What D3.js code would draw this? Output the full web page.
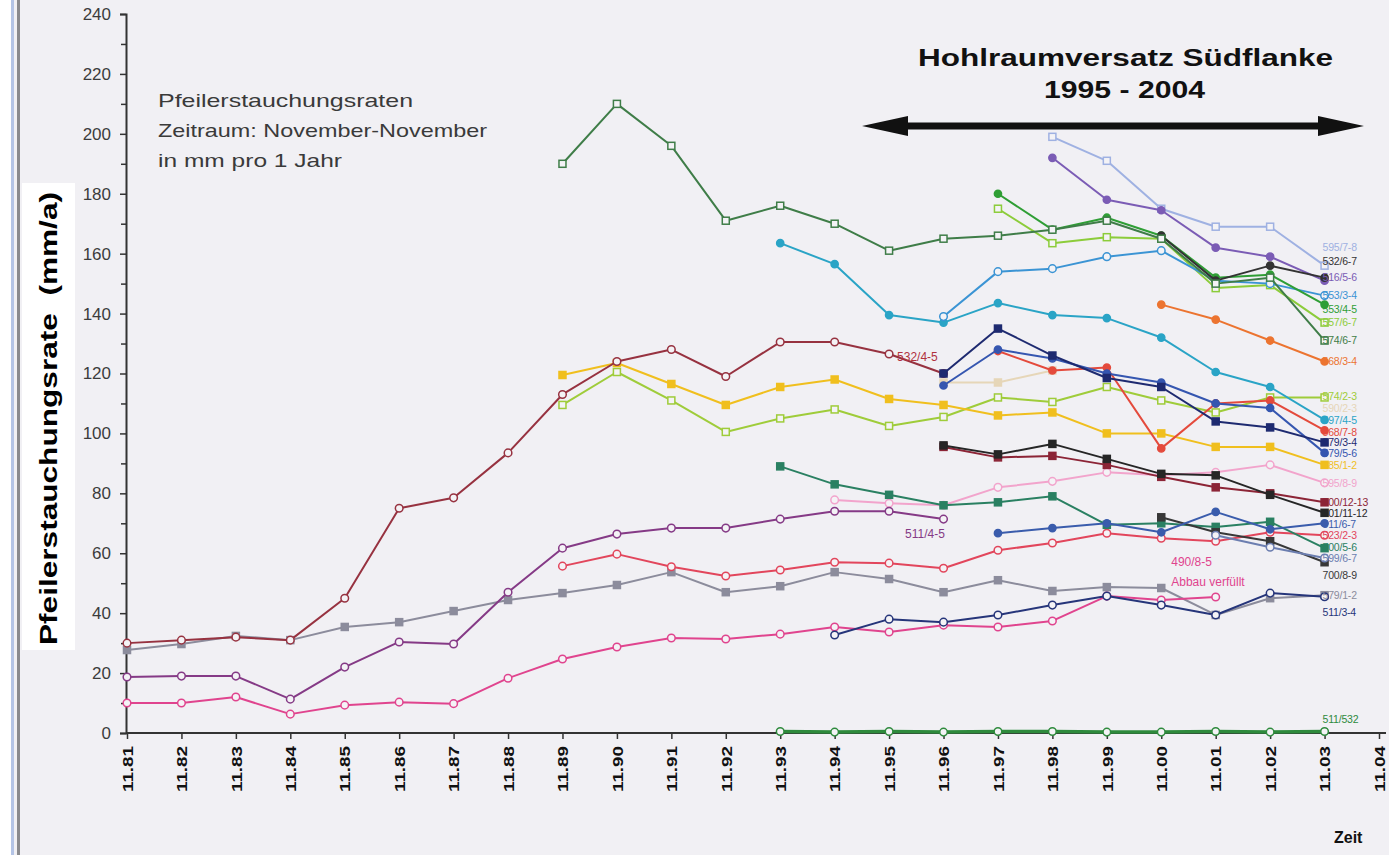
<!DOCTYPE html>
<html>
<head>
<meta charset="utf-8">
<script src="https://cdn.jsdelivr.net/npm/d3@7"></script>
<style>
    body { margin: 0; background: #f1f0f4; }
    svg { display: block; font-family: Arial, "Liberation Sans", sans-serif; }
</style>
</head>
<body>
<svg id="chart" width="1389" height="855"></svg>
<script>
// x categories (November of each year)
const xLabels = ["11.81","11.82","11.83","11.84","11.85","11.86","11.87","11.88","11.89","11.90","11.91","11.92",
                 "11.93","11.94","11.95","11.96","11.97","11.98","11.99","11.00","11.01","11.02","11.03","11.04"];
const yTicks = [0,20,40,60,80,100,120,140,160,180,200,220,240];

// values, mm per year, each array starts at its first year
const p574_6_7 = [190,210,196,171,176,170,161,165,166,168,171,165,150,152,131];
const p553_4_5 = [180,168,172,166,152,153,143];
const p557_6_7 = [175,163.5,165.5,165,148.5,149.5,137];
const p553_3_4 = [139,154,155,159,161,151,150,146];
const p597_4_5 = [163.5,156.5,139.5,137,143.5,139.5,138.5,132,120.5,115.5,104.5];
const p595_7_8 = [199,191,175,169,169,156];
const p516_5_6 = [192,178,174.5,162,159,151];
const p532_6_7 = [166,151,156,152];
const p568_3_4 = [143,138,131,124];
const p574_2_3 = [109.5,120.5,111,100.5,105,108,102.5,105.5,112,110.5,115.5,111,107,112,112];
const p585_1_2 = [119.5,123.5,116.5,109.5,115.5,118,111.5,109.5,106,107,100,100,95.5,95.5,89.5];
const p532_4_5 = [30,31,32,31,45,75,78.5,93.5,113,124,128,119,130.5,130.5,126.5,120];
const p579_3_4 = [120,135,126,118.5,115.5,104,102,97];
const p579_5_6 = [116,128,125,120,117,110,108.5,93.5];
const p568_7_8 = [127.5,121,122,95,110,111,101];
const p590_2_3 = [117,117,121];
const p500_12_13 = [95.5,92,92.5,89.5,85.5,82,80,77];
const p501_11_12 = [96,93,96.5,91.5,86.5,86,79.5,73.5];
const p595_8_9 = [77.8,76.7,76,82,84,87,86,87,89.5,83.5];
const p700_5_6 = [89,83,79.5,76,77,79,69.5,70,68.8,70.5,61.7];
const p700_8_9 = [72,67,64,57];
const p511_4_5 = [18.7,19,19,11.3,22,30.4,29.7,47,61.7,66.4,68.4,68.4,71.4,74,74,71.4];
const p523_2_3 = [55.7,59.7,55.5,52.4,54.4,57,56.7,55,61,63.4,66.7,65,64,67,66];
const p511_6_7 = [66.7,68.4,70,67,73.8,68,70];
const p599_6_7 = [66,62,58.4];
const p579_1_2 = [27.7,29.7,32.4,31,35.4,37,40.7,44.4,46.7,49.4,53.7,47,49,53.7,51.4,47,51,47.4,48.7,48.4,39.4,45,46];
const p490_8_5 = [10,10,12,6.3,9.3,10.3,9.8,18.3,24.7,28.7,31.7,31.4,33,35.4,33.7,36,35.4,37.4,45.7,44.4,45.4];
const p511_3_4 = [32.7,38,37,39.4,42.7,45.7,42.7,39.4,46.7,45.5];
const p511_532 = [0.5,0.3,0.5,0.3,0.5,0.5,0.3,0.3,0.5,0.3,0.5];

// label names at the right edge and the value where each sits
const rightNames  = ["595/7-8","532/6-7","516/5-6","553/3-4","553/4-5","557/6-7","574/6-7","568/3-4","574/2-3","590/2-3",
                     "597/4-5","568/7-8","579/3-4","579/5-6","585/1-2","595/8-9","500/12-13","501/11-12","511/6-7","523/2-3",
                     "700/5-6","599/6-7","700/8-9","579/1-2","511/3-4","511/532"];
const rightValues = [162,157.5,152,146,141.5,137,131,124,112.5,108.5,
                     104.5,100.5,97,93.3,89.5,83.5,77,73.3,69.7,66,
                     61.9,58.2,52.7,46,40.4,4.7];

// series table: data + look
const series = [
    {name:"590/2-3",  start:"11.96", vals:p590_2_3,  color:"#e6d6b8", mark:"fsq"},
    {name:"595/8-9",  start:"11.94", vals:p595_8_9,  color:"#f2a4cc", mark:"c"},
    {name:"595/7-8",  start:"11.98", vals:p595_7_8,  color:"#9fb1e2", mark:"sq"},
    {name:"557/6-7",  start:"11.97", vals:p557_6_7,  color:"#8ccc3a", mark:"sq"},
    {name:"574/2-3",  start:"11.89", vals:p574_2_3,  color:"#9fcc3a", mark:"sq"},
    {name:"585/1-2",  start:"11.89", vals:p585_1_2,  color:"#f0bf1e", mark:"fsq"},
    {name:"579/1-2",  start:"11.81", vals:p579_1_2,  color:"#8c8c9c", mark:"fsq"},
    {name:"490/8-5",  start:"11.81", vals:p490_8_5,  color:"#e0448e", mark:"c"},
    {name:"523/2-3",  start:"11.89", vals:p523_2_3,  color:"#e2465c", mark:"c"},
    {name:"511/4-5",  start:"11.81", vals:p511_4_5,  color:"#853a86", mark:"c"},
    {name:"532/4-5",  start:"11.81", vals:p532_4_5,  color:"#973240", mark:"c"},
    {name:"597/4-5",  start:"11.93", vals:p597_4_5,  color:"#2aa4c6", mark:"fc"},
    {name:"553/3-4",  start:"11.96", vals:p553_3_4,  color:"#3b94d4", mark:"c"},
    {name:"516/5-6",  start:"11.98", vals:p516_5_6,  color:"#7b5cb5", mark:"fc"},
    {name:"568/3-4",  start:"11.00", vals:p568_3_4,  color:"#ec7430", mark:"fc"},
    {name:"568/7-8",  start:"11.97", vals:p568_7_8,  color:"#e44a3c", mark:"fc"},
    {name:"579/5-6",  start:"11.96", vals:p579_5_6,  color:"#3556b0", mark:"fc"},
    {name:"579/3-4",  start:"11.96", vals:p579_3_4,  color:"#1e2a70", mark:"fsq"},
    {name:"700/5-6",  start:"11.93", vals:p700_5_6,  color:"#2a8062", mark:"fsq"},
    {name:"500/12-13",start:"11.96", vals:p500_12_13,color:"#8c2436", mark:"fsq"},
    {name:"501/11-12",start:"11.96", vals:p501_11_12,color:"#262626", mark:"fsq"},
    {name:"700/8-9",  start:"11.00", vals:p700_8_9,  color:"#383838", mark:"fsq"},
    {name:"511/6-7",  start:"11.97", vals:p511_6_7,  color:"#3a5cac", mark:"fc"},
    {name:"599/6-7",  start:"11.01", vals:p599_6_7,  color:"#6c7eb0", mark:"c"},
    {name:"511/3-4",  start:"11.94", vals:p511_3_4,  color:"#26357a", mark:"c"},
    {name:"553/4-5",  start:"11.97", vals:p553_4_5,  color:"#2f9e35", mark:"fc"},
    {name:"532/6-7",  start:"11.00", vals:p532_6_7,  color:"#333333", mark:"fc"},
    {name:"574/6-7",  start:"11.89", vals:p574_6_7,  color:"#3f7d48", mark:"sq"},
    {name:"511/532",  start:"11.93", vals:p511_532,  color:"#2e8a3c", mark:"c", width:3.5}
];
const colorOf = {};
series.forEach(s => colorOf[s.name] = s.color);

const svg = d3.select("#chart");

// scanned page frame on the left
svg.append("rect").attr("x", 0).attr("y", 0).attr("width", 11).attr("height", 855).attr("fill", "#ffffff");
svg.append("rect").attr("x", 11).attr("y", 0).attr("width", 3).attr("height", 855).attr("fill", "#b4c4e6");
svg.append("rect").attr("x", 17).attr("y", 0).attr("width", 3).attr("height", 855).attr("fill", "#8a8a8e");

const x = d3.scalePoint().domain(xLabels).range([127, 1379]);
const y = d3.scaleLinear().domain([0, 240]).range([733, 14]);

// axes
const yAxis = svg.append("g")
    .attr("transform", "translate(126,0)")
    .call(d3.axisLeft(y).tickValues(yTicks).tickSize(6).tickPadding(9));
svg.append("g")
    .attr("transform", "translate(126,0)")
    .call(d3.axisLeft(y).tickValues(d3.range(10, 240, 20)).tickSize(5).tickFormat(""))
    .select(".domain").remove();
yAxis.selectAll("text").attr("font-size", 17).attr("fill", "#3c3c3c").attr("font-family", "Arial, sans-serif");

const xAxis = svg.append("g")
    .attr("transform", "translate(0,733)")
    .call(d3.axisBottom(x).tickSize(6).tickSizeOuter(0));
xAxis.selectAll("text")
    .attr("transform", "rotate(-90)")
    .attr("x", -13).attr("y", 0).attr("dy", "0.35em")
    .style("text-anchor", "end")
    .attr("font-size", 15).attr("font-weight", "bold").attr("fill", "#111")
    .attr("font-family", "Arial, sans-serif")
    .attr("textLength", 46).attr("lengthAdjust", "spacingAndGlyphs");
svg.selectAll(".domain").attr("stroke", "#333").attr("stroke-width", 2);
svg.selectAll(".tick line").attr("stroke", "#333").attr("stroke-width", 1.5);
// x axis line runs a bit past the last tick
xAxis.select(".domain").attr("d", "M126,0H1386");

// lines and markers
const line = d3.line()
    .x(d => x(d.label))
    .y(d => y(d.v));

series.forEach(s => {
    let i0 = xLabels.indexOf(s.start);
    let pts = s.vals.map((v, i) => ({label: xLabels[i0 + i], v: v}));
    let g = svg.append("g");
    g.append("path")
        .attr("d", line(pts))
        .attr("fill", "none")
        .attr("stroke", s.color)
        .attr("stroke-width", s.width || 2)
        .attr("stroke-linejoin", "round");
    pts.forEach(p => {
        let cx = x(p.label), cy = y(p.v);
        let filled = s.mark == "fc" || s.mark == "fsq";
        if (s.mark == "sq" || s.mark == "fsq") {
            g.append("rect")
                .attr("x", cx - 3.5).attr("y", cy - 3.5)
                .attr("width", 7).attr("height", 7)
                .attr("fill", filled ? s.color : "#f4f3f6")
                .attr("stroke", s.color).attr("stroke-width", 1.5);
        } else {
            g.append("circle")
                .attr("cx", cx).attr("cy", cy).attr("r", filled ? 3.6 : 3.8)
                .attr("fill", filled ? s.color : "#f4f3f6")
                .attr("stroke", s.color).attr("stroke-width", 1.5);
        }
    });
});

// labels at the right end
svg.append("g").selectAll("text")
    .data(rightNames)
    .join("text")
    .attr("x", x("11.03") - 2)
    .attr("y", (d, i) => y(rightValues[i]))
    .attr("dy", "0.35em")
    .attr("font-size", 10.5)
    .attr("letter-spacing", -0.2)
    .attr("fill", d => colorOf[d] || "#333")
    .text(d => d);

// labels inside the plot
svg.append("text").attr("x", x("11.95") + 8).attr("y", y(125.5)).attr("dy", "0.35em")
    .attr("font-size", 12).attr("fill", "#b0323e").text("532/4-5");
svg.append("text").attr("x", x("11.95") + 16).attr("y", y(66.5)).attr("dy", "0.35em")
    .attr("font-size", 12).attr("fill", "#853a86").text("511/4-5");
svg.append("text").attr("x", x("11.00") + 10).attr("y", y(57)).attr("dy", "0.35em")
    .attr("font-size", 12).attr("fill", "#e0448e").text("490/8-5");
svg.append("text").attr("x", x("11.00") + 10).attr("y", y(50.5)).attr("dy", "0.35em")
    .attr("font-size", 12).attr("fill", "#e0448e").text("Abbau verfüllt");

// description top left
const desc = ["Pfeilerstauchungsraten", "Zeitraum: November-November", "in mm pro 1 Jahr"];
const descLen = [255, 329, 184];
desc.forEach((t, i) => {
    svg.append("text")
        .attr("x", 158).attr("y", 107 + i * 30)
        .attr("font-size", 19).attr("fill", "#3a3a3a")
        .attr("textLength", descLen[i]).attr("lengthAdjust", "spacingAndGlyphs")
        .text(t);
});

// title + double arrow
svg.append("text").attr("x", 918).attr("y", 66)
    .attr("font-size", 23).attr("font-weight", "bold").attr("fill", "#111")
    .attr("textLength", 415).attr("lengthAdjust", "spacingAndGlyphs")
    .text("Hohlraumversatz Südflanke");
svg.append("text").attr("x", 1044).attr("y", 98)
    .attr("font-size", 23).attr("font-weight", "bold").attr("fill", "#111")
    .attr("textLength", 161).attr("lengthAdjust", "spacingAndGlyphs")
    .text("1995 - 2004");
svg.append("line").attr("x1", 900).attr("x2", 1325).attr("y1", 126).attr("y2", 126)
    .attr("stroke", "#111").attr("stroke-width", 7);
svg.append("path").attr("d", "M862,126 L908,116 L908,136 Z").attr("fill", "#111");
svg.append("path").attr("d", "M1364,126 L1318,116 L1318,136 Z").attr("fill", "#111");

// y axis title on white box
svg.append("rect").attr("x", 22).attr("y", 183).attr("width", 53).attr("height", 467).attr("fill", "#ffffff");
svg.append("text")
    .attr("transform", "translate(57,645) rotate(-90)")
    .attr("font-size", 24).attr("font-weight", "bold").attr("fill", "#000")
    .attr("textLength", 453).attr("lengthAdjust", "spacingAndGlyphs")
    .attr("xml:space", "preserve")
    .text("Pfeilerstauchungsrate  (mm/a)");

svg.append("text").attr("x", 1334).attr("y", 843)
    .attr("font-size", 16).attr("font-weight", "bold").attr("fill", "#111")
    .text("Zeit");
</script>
</body>
</html>
